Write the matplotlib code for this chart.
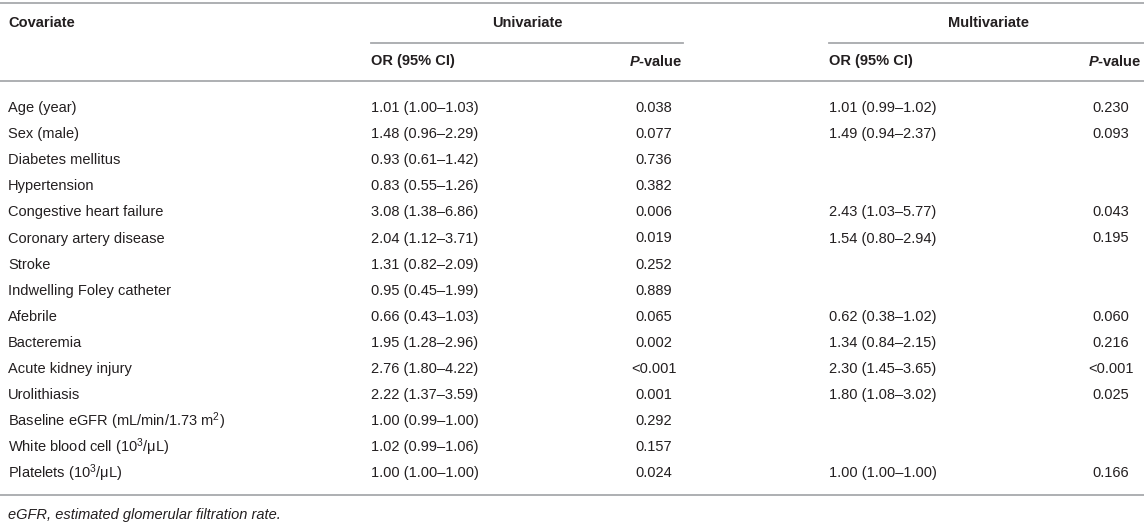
import matplotlib
matplotlib.use("Agg")
import matplotlib.pyplot as plt

plt.rcParams['font.family'] = ['Liberation Sans', 'DejaVu Sans']
plt.rcParams['mathtext.fontset'] = 'custom'
plt.rcParams['mathtext.rm'] = 'Liberation Sans'
plt.rcParams['mathtext.it'] = 'Liberation Sans:italic'
plt.rcParams['mathtext.bf'] = 'Liberation Sans:bold'
plt.rcParams['mathtext.bfit'] = 'Liberation Sans:italic:bold'

covariates = [
    "Age (year)", "Sex (male)", "Diabetes mellitus", "Hypertension",
    "Congestive heart failure", "Coronary artery disease", "Stroke",
    "Indwelling Foley catheter", "Afebrile", "Bacteremia",
    "Acute kidney injury", "Urolithiasis",
    r"Baseline eGFR (mL/min/1.73 m$^{2}$)",
    r"White blood cell (10$^{3}$/μL)",
    r"Platelets (10$^{3}$/μL)",
]
uni_or = [
    "1.01 (1.00–1.03)", "1.48 (0.96–2.29)", "0.93 (0.61–1.42)",
    "0.83 (0.55–1.26)", "3.08 (1.38–6.86)", "2.04 (1.12–3.71)",
    "1.31 (0.82–2.09)", "0.95 (0.45–1.99)", "0.66 (0.43–1.03)",
    "1.95 (1.28–2.96)", "2.76 (1.80–4.22)", "2.22 (1.37–3.59)",
    "1.00 (0.99–1.00)", "1.02 (0.99–1.06)", "1.00 (1.00–1.00)",
]
uni_p = [
    "0.038", "0.077", "0.736", "0.382", "0.006", "0.019", "0.252",
    "0.889", "0.065", "0.002", "<0.001", "0.001", "0.292", "0.157", "0.024",
]
multi_or = [
    "1.01 (0.99–1.02)", "1.49 (0.94–2.37)", "", "", "2.43 (1.03–5.77)",
    "1.54 (0.80–2.94)", "", "", "0.62 (0.38–1.02)", "1.34 (0.84–2.15)",
    "2.30 (1.45–3.65)", "1.80 (1.08–3.02)", "", "", "1.00 (1.00–1.00)",
]
multi_p = [
    "0.230", "0.093", "", "", "0.043", "0.195", "", "", "0.060", "0.216",
    "<0.001", "0.025", "", "", "0.166",
]
footnote = "eGFR, estimated glomerular filtration rate."

W, H = 1144, 522
fig = plt.figure(figsize=(W / 100, H / 100), dpi=100)
ax = fig.add_axes([0, 0, 1, 1])
ax.set_xlim(0, W)
ax.set_ylim(H, 0)
ax.axis('off')

txt = '#231f20'
line_c = '#a7a9ac'
fs = 10.5

x_cov = 8
x_uor = 371
x_up = 654
x_up_head = 683
x_mor = 829
x_mp = 1111
x_mp_head = 1142

# rules
ax.plot([0, W], [3, 3], color=line_c, lw=1.3)
ax.plot([x_uor, x_up_head], [43, 43], color=line_c, lw=1.3)
ax.plot([x_mor, W], [43, 43], color=line_c, lw=1.3)
ax.plot([0, W], [81, 81], color=line_c, lw=1.3)

# headers
ax.text(x_cov, 23, "Covariate", fontsize=fs, fontweight='bold', color=txt, va='center', ha='left')
ax.text((x_uor + x_up_head) / 2, 23, "Univariate", fontsize=fs, fontweight='bold', color=txt, va='center', ha='center')
ax.text((x_mor + W) / 2 + 2, 23, "Multivariate", fontsize=fs, fontweight='bold', color=txt, va='center', ha='center')
ax.text(x_uor, 61, "OR (95% CI)", fontsize=fs, fontweight='bold', color=txt, va='center', ha='left')
ax.text(x_up_head, 61, r"$\mathbfit{P}$-value", fontsize=fs, fontweight='bold', color=txt, va='center', ha='right')
ax.text(x_mor, 61, "OR (95% CI)", fontsize=fs, fontweight='bold', color=txt, va='center', ha='left')
ax.text(x_mp_head, 61, r"$\mathbfit{P}$-value", fontsize=fs, fontweight='bold', color=txt, va='center', ha='right')

y0, dy = 108, 26.1
for i in range(len(covariates)):
    y = y0 + i * dy
    ax.text(x_cov, y, covariates[i], fontsize=fs, color=txt, va='center', ha='left')
    ax.text(x_uor, y, uni_or[i], fontsize=fs, color=txt, va='center', ha='left')
    ax.text(x_up, y, uni_p[i], fontsize=fs, color=txt, va='center', ha='center')
    if multi_or[i]:
        ax.text(x_mor, y, multi_or[i], fontsize=fs, color=txt, va='center', ha='left')
    if multi_p[i]:
        ax.text(x_mp, y, multi_p[i], fontsize=fs, color=txt, va='center', ha='center')

y_last = y0 + (len(covariates) - 1) * dy
ax.plot([0, W], [y_last + 22, y_last + 22], color=line_c, lw=1.3)
ax.text(x_cov, y_last + 42, footnote, fontsize=fs, style='italic', color=txt, va='center', ha='left')

fig.savefig("out.png", dpi=100)
